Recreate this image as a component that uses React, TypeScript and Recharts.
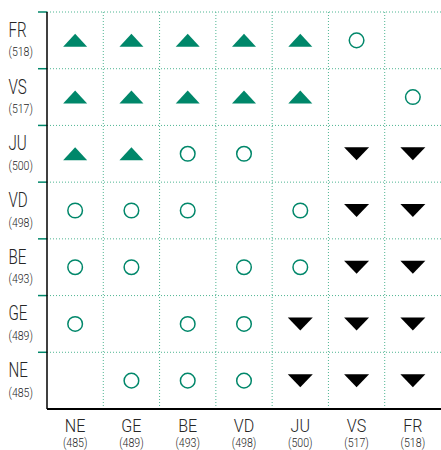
import { ScatterChart, Scatter, XAxis, YAxis, ReferenceLine } from 'recharts'

// regions ordered as in the picture; scores in brackets
const rowCodes = ['FR', 'VS', 'JU', 'VD', 'BE', 'GE', 'NE']
const rowScores = [518, 517, 500, 498, 493, 489, 485]
const colCodes = ['NE', 'GE', 'BE', 'VD', 'JU', 'VS', 'FR']
const colScores = [485, 489, 493, 498, 500, 517, 518]

// up = significantly higher, same = no significant difference, down = significantly lower
const results = [
  ['up', 'up', 'up', 'up', 'up', 'same', ''],
  ['up', 'up', 'up', 'up', 'up', '', 'same'],
  ['up', 'up', 'same', 'same', '', 'down', 'down'],
  ['same', 'same', 'same', '', 'same', 'down', 'down'],
  ['same', 'same', '', 'same', 'same', 'down', 'down'],
  ['same', '', 'same', 'same', 'down', 'down', 'down'],
  ['', 'same', 'same', 'same', 'down', 'down', 'down'],
]

const GREEN = '#00876a'
const GRID = '#4fb592'
const FONT = 'Roboto, "Noto Sans", sans-serif'
const TEXT = '#262626'

const n = rowCodes.length
const cellsOf = (kind: string) =>
  results.flatMap((row, r) =>
    row.map((v, c) => ({ x: c + 0.5, y: n - r - 0.5, v })).filter((p) => p.v === kind)
  )

const upCells = cellsOf('up')
const sameCells = cellsOf('same')
const downCells = cellsOf('down')

const centers = Array.from({ length: n }, (_, i) => i + 0.5)
const bounds = Array.from({ length: n }, (_, i) => i + 1)

const UpShape = (p: any) => (
  <polygon
    points={`${p.cx - 12},${p.cy + 6.5} ${p.cx + 12},${p.cy + 6.5} ${p.cx},${p.cy - 6.5}`}
    fill={GREEN}
  />
)
const DownShape = (p: any) => (
  <polygon
    points={`${p.cx - 12.5},${p.cy - 6.5} ${p.cx + 12.5},${p.cy - 6.5} ${p.cx},${p.cy + 6.5}`}
    fill="#000"
  />
)
const SameShape = (p: any) => (
  <circle cx={p.cx} cy={p.cy} r={7.3} fill="none" stroke={GREEN} strokeWidth={1.5} />
)

// condensed look: squeeze the text horizontally
const Narrow = ({ x, y, size, sx, anchor, children }: any) => (
  <text
    transform={`translate(${x},${y}) scale(${sx},1)`}
    fontSize={size}
    fontWeight={300}
    textAnchor={anchor}
    fontFamily={FONT}
    fill={TEXT}
  >
    {children}
  </text>
)

const YTick = (props: any) => {
  const r = Math.round(n - 0.5 - props.payload.value)
  return (
    <g>
      <Narrow x={8.5} y={props.y - 3.5} size={20.5} sx={0.74} anchor="start">
        {rowCodes[r]}
      </Narrow>
      <Narrow x={8.5} y={props.y + 16} size={12.3} sx={0.86} anchor="start">
        ({rowScores[r]})
      </Narrow>
    </g>
  )
}

const XTick = (props: any) => {
  const c = Math.round(props.payload.value - 0.5)
  return (
    <g>
      <Narrow x={props.x} y={432.3} size={18.7} sx={0.86} anchor="middle">
        {colCodes[c]}
      </Narrow>
      <Narrow x={props.x} y={447} size={12.5} sx={0.85} anchor="middle">
        ({colScores[c]})
      </Narrow>
    </g>
  )
}

export default function App() {
  return (
    <div style={{ position: 'absolute', left: 0, top: 0, background: '#fff' }}>
      <ScatterChart width={441} height={450} margin={{ top: 12, right: 0, bottom: 0, left: 0 }}>
        <XAxis
          type="number"
          dataKey="x"
          domain={[0, n]}
          ticks={centers}
          tick={<XTick />}
          tickLine={false}
          axisLine={{ stroke: '#000', strokeWidth: 2 }}
          height={41}
          interval={0}
        />
        <YAxis
          type="number"
          dataKey="y"
          domain={[0, n]}
          ticks={centers}
          tick={<YTick />}
          tickLine={false}
          axisLine={{ stroke: '#000', strokeWidth: 1.5 }}
          width={47}
          interval={0}
        />
        {bounds.slice(0, n - 1).map((b) => (
          <ReferenceLine key={'v' + b} x={b} stroke={GRID} strokeDasharray="1 2" />
        ))}
        {bounds.map((b) => (
          <ReferenceLine key={'h' + b} y={b} stroke={GRID} strokeDasharray="1 2" />
        ))}
        {bounds.map((b) => (
          <ReferenceLine
            key={'t' + b}
            segment={[
              { x: -0.16, y: b },
              { x: 0, y: b },
            ]}
            stroke={GREEN}
            strokeWidth={1.5}
            ifOverflow="visible"
          />
        ))}
        <Scatter data={upCells} shape={UpShape} isAnimationActive={false} />
        <Scatter data={sameCells} shape={SameShape} isAnimationActive={false} />
        <Scatter data={downCells} shape={DownShape} isAnimationActive={false} />
      </ScatterChart>
    </div>
  )
}
